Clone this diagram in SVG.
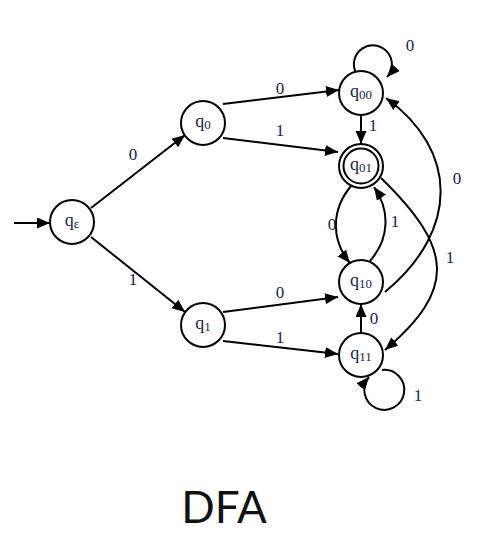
<svg xmlns="http://www.w3.org/2000/svg" width="478" height="542" viewBox="0 0 478 542">
<style>
.n{fill:#fff;stroke:#000;stroke-width:2}
.e{fill:none;stroke:#000;stroke-width:2;marker-end:url(#a)}
.t{font-family:"Liberation Serif",serif;font-size:18px;fill:#1b2348;text-anchor:middle}
.s{font-size:13px}
.l{font-family:"Liberation Serif",serif;font-size:17px;fill:#1b2348;text-anchor:middle}
</style>
<defs>
<marker id="a" markerUnits="userSpaceOnUse" markerWidth="14" markerHeight="12" refX="13" refY="5.5" orient="auto">
<path d="M0,0 L13,5.5 L0,11 Z" fill="#000"/>
</marker>
</defs>
<rect width="478" height="542" fill="#fff"/>
<g id="edges">
<path class="e" d="M14,223 L50,223"/>
<path class="e" d="M91,208 L185,135"/>
<path class="e" d="M91,237 L185,312"/>
<path class="e" d="M223,104 L339,90"/>
<path class="e" d="M223,138 L338,152"/>
<path class="e" d="M223,312 L338,297"/>
<path class="e" d="M223,341 L338,354"/>
<path class="e" d="M361,115 L361,144"/>
<path class="e" d="M361,333 L361,304"/>
<path class="e" d="M356,73 A19 19 0 1 1 387,77"/>
<path class="e" d="M382,370 A20 20 0 1 1 369,377"/>
<path class="e" d="M381,178 C455,250 455,290 385,350"/>
<path class="e" d="M385,292 C460,230 458,150 386,98"/>
<path class="e" d="M351,186 C331,210 331,240 350,263"/>
<path class="e" d="M370,261 C390,238 390,210 374,187"/>
</g>
<g id="labels">
<text class="l" x="133" y="160">0</text>
<text class="l" x="133" y="285">1</text>
<text class="l" x="280" y="94">0</text>
<text class="l" x="280" y="136">1</text>
<text class="l" x="280" y="298">0</text>
<text class="l" x="280" y="343">1</text>
<text class="l" x="410" y="51">0</text>
<text class="l" x="373" y="131">1</text>
<text class="l" x="457" y="184">0</text>
<text class="l" x="450" y="263">1</text>
<text class="l" x="332" y="230">0</text>
<text class="l" x="395" y="227">1</text>
<text class="l" x="374" y="324">0</text>
<text class="l" x="418" y="401">1</text>
</g>
<g id="qe"><circle class="n" cx="72" cy="222" r="22"/><text class="t" x="72" y="226">q<tspan class="s" dy="2">ε</tspan></text></g>
<g id="q0"><circle class="n" cx="203" cy="123" r="22"/><text class="t" x="203" y="127">q<tspan class="s" dy="2">0</tspan></text></g>
<g id="q1"><circle class="n" cx="203" cy="325" r="22"/><text class="t" x="203" y="329">q<tspan class="s" dy="2">1</tspan></text></g>
<g id="q00"><circle class="n" cx="361" cy="93" r="22"/><text class="t" x="361" y="97">q<tspan class="s" dy="2">00</tspan></text></g>
<g id="q01"><circle class="n" cx="361" cy="166" r="22"/><circle class="n" cx="361" cy="166" r="17.5"/><text class="t" x="361" y="170">q<tspan class="s" dy="2">01</tspan></text></g>
<g id="q10"><circle class="n" cx="361" cy="282" r="22"/><text class="t" x="361" y="286">q<tspan class="s" dy="2">10</tspan></text></g>
<g id="q11"><circle class="n" cx="361" cy="355" r="22"/><text class="t" x="361" y="359">q<tspan class="s" dy="2">11</tspan></text></g>
<text x="224" y="523" font-family="Lato, sans-serif" font-size="44" fill="#111" text-anchor="middle">DFA</text>
</svg>
